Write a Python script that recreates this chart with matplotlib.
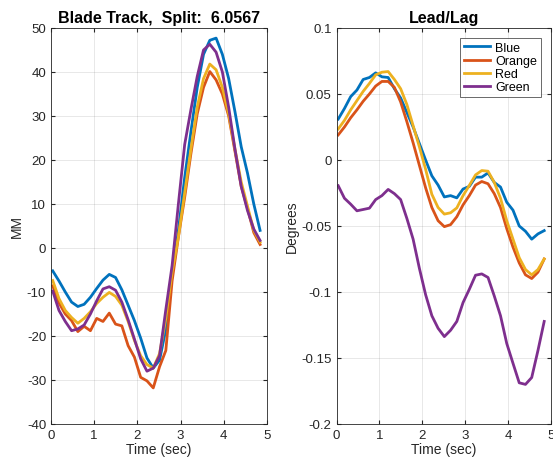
import numpy as np
import matplotlib
matplotlib.use("Agg")
from matplotlib import pyplot as plt
from matplotlib.ticker import FuncFormatter

plt.rcParams['font.family'] = ['Liberation Sans', 'DejaVu Sans']

# sample times (sec)
t = np.linspace(0.04, 4.84, 34)

# blade track (MM)
track_blue = [-5.2, -7.5, -10, -12.3, -13.3, -12.8, -11.2, -9.2, -7.3, -6.0,
              -6.7, -9.5, -13, -16.5, -20.5, -25, -27.3, -25.5, -18.5, -6,
              4, 16, 26.5, 36.5, 44, 47.2, 47.7, 44, 38.5, 31, 23, 17, 10, 4]
track_orange = [-8.6, -12.5, -15, -16.5, -19, -17.8, -18.8, -16, -16.7, -14.8,
                -17.3, -17.7, -22.2, -24.8, -29.4, -30.2, -31.8, -27, -23.3, -7.5,
                2.5, 11.5, 21.5, 30.5, 36.5, 40.1, 38.2, 35, 30, 22, 14, 9, 3.5, 0.8]
track_red = [-7.4, -11.5, -14.2, -15.8, -17.1, -16, -14.5, -12.6, -11.2, -10.1,
             -11, -13, -16.7, -21, -24.5, -26.5, -27.3, -24, -16, -5.5,
             2.5, 12.5, 22.5, 32, 38.5, 41.8, 40.5, 36.5, 30.5, 22.5, 15, 9.5, 4, 1.3]
track_green = [-9.8, -14.2, -16.7, -18.8, -18.4, -17.5, -15, -12, -9.3, -8.8,
               -9.6, -12.3, -16.3, -20.7, -25.2, -28, -27.3, -24.5, -14, -4,
               10, 23.5, 31.5, 39, 45, 46.3, 44.5, 40, 32, 22.5, 14, 8.5, 4.3, 1.7]

# lead/lag (degrees)
lag_blue = [0.031, 0.039, 0.048, 0.053, 0.061, 0.0625, 0.066, 0.063, 0.0625, 0.054,
            0.047, 0.036, 0.025, 0.0125, 0.0, -0.012, -0.019, -0.028, -0.027, -0.0287,
            -0.022, -0.020, -0.013, -0.013, -0.0098, -0.017, -0.0205, -0.032, -0.038,
            -0.050, -0.054, -0.060, -0.056, -0.0535]
lag_orange = [0.019, 0.025, 0.032, 0.038, 0.0445, 0.050, 0.056, 0.0595, 0.0595, 0.055,
              0.044, 0.029, 0.013, -0.004, -0.021, -0.036, -0.046, -0.0505, -0.049, -0.043,
              -0.034, -0.027, -0.019, -0.0163, -0.018, -0.0255, -0.036, -0.052, -0.066,
              -0.078, -0.087, -0.0898, -0.085, -0.075]
lag_red = [0.0235, 0.030, 0.038, 0.045, 0.052, 0.058, 0.0645, 0.0665, 0.067, 0.061,
           0.054, 0.042, 0.026, 0.010, -0.007, -0.026, -0.036, -0.041, -0.040, -0.0363,
           -0.027, -0.0193, -0.0113, -0.008, -0.0085, -0.017, -0.029, -0.046, -0.060,
           -0.074, -0.083, -0.087, -0.083, -0.075]
lag_green = [-0.0195, -0.029, -0.0335, -0.0385, -0.0375, -0.0365, -0.030, -0.027, -0.0223, -0.0255,
             -0.030, -0.0443, -0.060, -0.082, -0.102, -0.118, -0.1275, -0.1338, -0.129, -0.1223,
             -0.108, -0.098, -0.0873, -0.0863, -0.089, -0.103, -0.118, -0.139, -0.154,
             -0.1688, -0.170, -0.1648, -0.1443, -0.1223]

names = ['Blue', 'Orange', 'Red', 'Green']
colors = ['#0072BD', '#D95319', '#EDB120', '#7E2F8E']
split = 6.0567


def fmt(v, p):
    v = round(v, 4)
    if abs(v) < 1e-9:
        v = 0
    return '%g' % v


def style_axes(ax):
    ax.grid(True, color='#262626', alpha=0.12, linewidth=0.6)
    ax.set_axisbelow(True)
    ax.tick_params(direction='in', length=3, colors='#262626', labelsize=9.5,
                   top=True, right=True)
    for s in ax.spines.values():
        s.set_color('#262626')
        s.set_linewidth(0.6)
    ax.xaxis.set_major_formatter(FuncFormatter(fmt))
    ax.yaxis.set_major_formatter(FuncFormatter(fmt))


fig = plt.figure(figsize=(5.53, 4.60), dpi=100)
ax1 = fig.add_axes([0.0922, 0.0761, 0.3906, 0.8609])
ax2 = fig.add_axes([0.6085, 0.0761, 0.3880, 0.8609])

for ys, c in zip([track_blue, track_orange, track_red, track_green], colors):
    ax1.plot(t, ys, color=c, linewidth=2)
ax1.set_xlim(0, 5)
ax1.set_ylim(-40, 50)
ax1.set_xticks(range(0, 6))
ax1.set_yticks(range(-40, 51, 10))
ax1.set_xlabel('Time (sec)', fontsize=10, color='#262626', labelpad=1)
ax1.set_ylabel('MM', fontsize=10, color='#262626', labelpad=2)
ax1.set_title('Blade Track,  Split:  %.4f' % split, fontsize=11.5, fontweight='bold', pad=4)
style_axes(ax1)

for ys, c, n in zip([lag_blue, lag_orange, lag_red, lag_green], colors, names):
    ax2.plot(t, ys, color=c, linewidth=2, label=n)
ax2.set_xlim(0, 5)
ax2.set_ylim(-0.2, 0.1)
ax2.set_xticks(range(0, 6))
ax2.set_yticks(np.arange(-0.2, 0.101, 0.05))
ax2.set_xlabel('Time (sec)', fontsize=10, color='#262626', labelpad=1)
ax2.set_ylabel('Degrees', fontsize=10, color='#262626', labelpad=2)
ax2.set_title('Lead/Lag', fontsize=11.5, fontweight='bold', pad=4)
style_axes(ax2)
leg = ax2.legend(loc='upper right', fontsize=9, frameon=True, fancybox=False,
                 edgecolor='#262626', handlelength=2.1, borderpad=0.3,
                 labelspacing=0.1, handletextpad=0.4, borderaxespad=0,
                 bbox_to_anchor=(0.953, 0.975))
leg.get_frame().set_linewidth(0.6)

fig.savefig('out.png', dpi=100)
